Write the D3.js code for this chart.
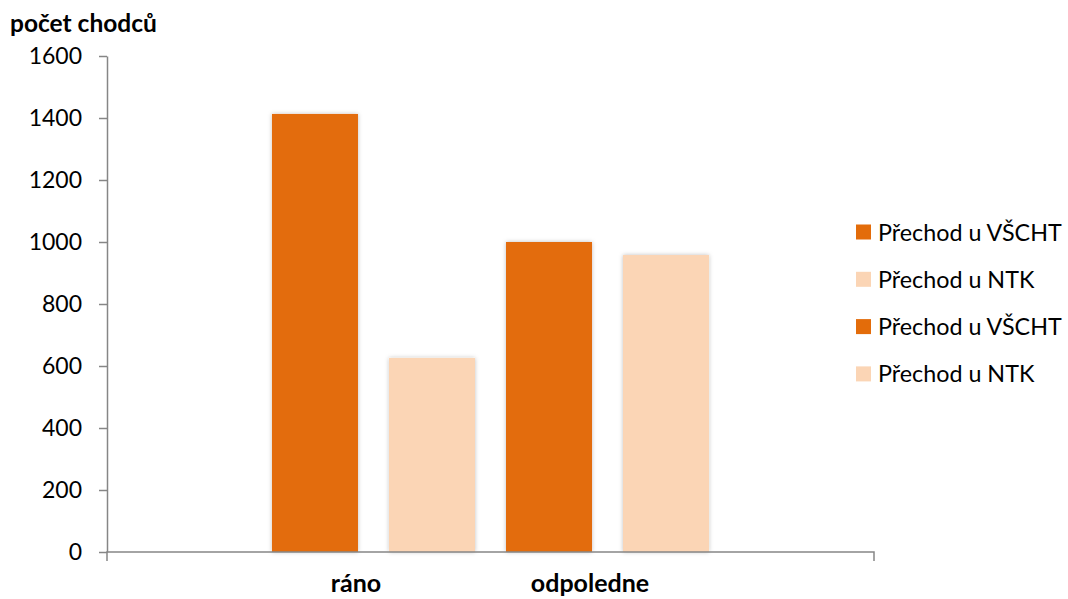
<!DOCTYPE html>
<html>
<head>
<meta charset="utf-8">
<style>
  body{margin:0;background:#fff;}
  text{font-family:Lato,"Open Sans",sans-serif;}
</style>
</head>
<body>
<script src="https://d3js.org/d3.v7.min.js"></script>
<script>
var categories=["ráno","odpoledne"];
var seriesNames=["Přechod u VŠCHT","Přechod u NTK"];
var valuesRano=[1413,626];
var valuesOdpoledne=[1000,958];
var yTicks=[0,200,400,600,800,1000,1200,1400,1600];
var colors=["#E36C0A","#FBD5B5"];

var width=1068, height=599;
var svg=d3.select("body").append("svg")
  .attr("width",width).attr("height",height);

var defs=svg.append("defs");
var f=defs.append("filter").attr("id","sh").attr("x","-20%").attr("y","-5%").attr("width","140%").attr("height","110%");
f.append("feDropShadow").attr("dx",0).attr("dy",0).attr("stdDeviation",2)
  .attr("flood-color","#000").attr("flood-opacity",0.25);

// flatten bars: category x series
var bars=[];
[valuesRano,valuesOdpoledne].forEach(function(vals,ci){
  vals.forEach(function(v,si){
    bars.push({key:ci+"-"+si,cat:categories[ci],series:si,value:v});
  });
});

var plot={left:107,right:874,top:56,bottom:552};

var x=d3.scaleBand().domain(bars.map(function(d){return d.key;}))
  .range([plot.left,plot.right]).paddingInner(0.265).paddingOuter(1.41);
var y=d3.scaleLinear().domain([0,1600]).range([plot.bottom,plot.top]);

// bars
svg.selectAll(".bar").data(bars).enter().append("rect")
  .attr("class","bar")
  .attr("x",function(d){return x(d.key);})
  .attr("y",function(d){return y(d.value);})
  .attr("width",x.bandwidth())
  .attr("height",function(d){return y(0)-y(d.value);})
  .attr("fill",function(d){return colors[d.series];})
  .attr("filter","url(#sh)");

// y axis
var yAxis=d3.axisLeft(y).tickValues(yTicks).tickFormat(d3.format("d"))
  .tickSize(8).tickSizeOuter(0).tickPadding(17);
var gy=svg.append("g").attr("transform","translate("+plot.left+",0)").call(yAxis);
gy.select(".domain").attr("stroke","#868686").attr("stroke-width",1.5);
gy.selectAll(".tick line").attr("stroke","#868686").attr("stroke-width",1.5);
gy.selectAll(".tick text").attr("font-size","23px").attr("fill","#000")
  .attr("font-family","Lato,sans-serif");

// x axis line with end ticks
var gx=svg.append("g");
gx.append("path")
  .attr("d","M"+plot.left+","+(plot.bottom+9)+"V"+plot.bottom+"H"+plot.right+"V"+(plot.bottom+9))
  .attr("fill","none").attr("stroke","#868686").attr("stroke-width",1.5);

// category labels
categories.forEach(function(c,ci){
  var cx=x(ci+"-0")+x.bandwidth()-2;
  gx.append("text").attr("x",cx).attr("y",592)
    .attr("text-anchor","middle").attr("font-size","25px").attr("font-weight","bold")
    .text(c);
});

// y title
svg.append("text").attr("x",10).attr("y",32)
  .attr("font-size","24.5px").attr("font-weight","bold").text("počet chodců");

// legend (series repeated per category, as in the original)
var legendItems=[];
categories.forEach(function(){seriesNames.forEach(function(s,si){legendItems.push({name:s,series:si});});});
var lg=svg.selectAll(".lg").data(legendItems).enter().append("g")
  .attr("transform",function(d,i){return "translate(856,"+(232+i*47.3)+")";});
lg.append("rect").attr("x",0).attr("y",-7.5).attr("width",15).attr("height",15)
  .attr("fill",function(d){return colors[d.series];});
lg.append("text").attr("x",22).attr("y",8.5).attr("font-size","23.3px").text(function(d){return d.name;});
</script>
</body>
</html>
